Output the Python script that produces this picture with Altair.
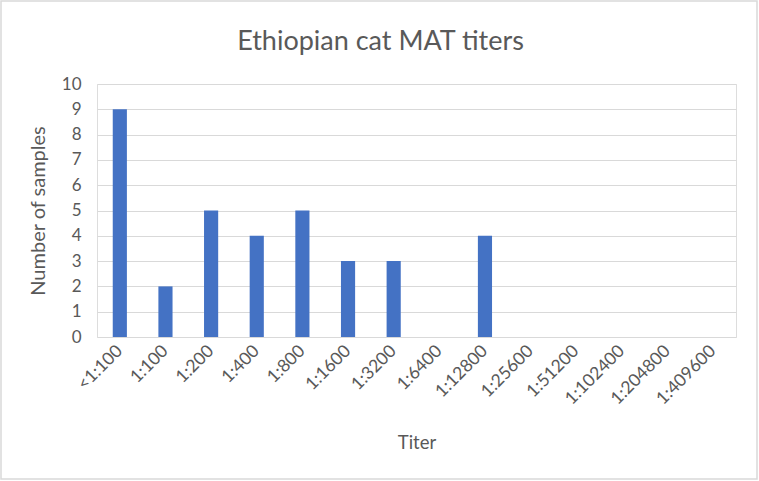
import altair as alt
import pandas as pd

categories = ["<1:100", "1:100", "1:200", "1:400", "1:800", "1:1600", "1:3200",
              "1:6400", "1:12800", "1:25600", "1:51200", "1:102400", "1:204800", "1:409600"]
counts = [9, 2, 5, 4, 5, 3, 3, 0, 4, 0, 0, 0, 0, 0]

df = pd.DataFrame({"Titer": categories, "Count": counts})

FONT = "Lato"
TXT = "#595959"

bars = alt.Chart(df).mark_bar(color="#4472C4").encode(
    x=alt.X("Titer:N", sort=categories,
            scale=alt.Scale(paddingInner=0.69, paddingOuter=0.345),
            axis=alt.Axis(title="Titer", labelAngle=-45, labelAlign="right",
                          labelBaseline="middle", labelPadding=11, ticks=False,
                          domain=False, labelColor=TXT, labelFontSize=17.5,
                          labelFont=FONT, titleFont=FONT, titleFontSize=18.5,
                          titleColor=TXT, titleFontWeight="normal", titlePadding=26)),
    y=alt.Y("Count:Q", scale=alt.Scale(domain=[0, 10]),
            axis=alt.Axis(title="Number of samples", values=list(range(11)),
                          ticks=False, domain=False, gridColor="#d9d9d9",
                          labelColor=TXT, labelFontSize=17, labelFont=FONT,
                          labelPadding=16, titleFont=FONT, titleFontSize=20,
                          titleColor=TXT, titleFontWeight="normal", titlePadding=13)),
)

border = alt.Chart(pd.DataFrame({"a": [0]})).mark_rect(
    fill=None, stroke="#d9d9d9", strokeWidth=1.5
).encode(x=alt.value(-96), x2=alt.value(660), y=alt.value(-83), y2=alt.value(395))

chart = alt.layer(bars, border).properties(
    width=639, height=253,
    autosize=alt.AutoSizeParams(type="none"),
    padding={"left": 97, "top": 84, "right": 23, "bottom": 144},
    title=alt.TitleParams("Ethiopian cat MAT titers", font=FONT, fontSize=27,
                          fontWeight="normal", color=TXT, anchor="middle",
                          baseline="alphabetic", dx=-36, dy=77, offset=0),
).configure_view(stroke=None).configure(background="white")

chart.save("out.html", embed_options={"renderer": "svg", "actions": False})
